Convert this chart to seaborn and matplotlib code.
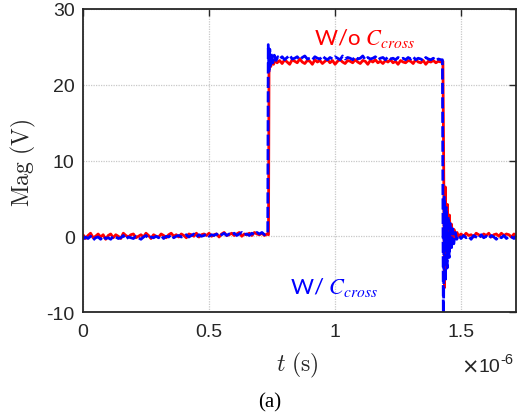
import numpy as np
import pandas as pd
import matplotlib
matplotlib.use("Agg")
import matplotlib.pyplot as plt
import seaborn as sns
from matplotlib.ticker import FuncFormatter

# ---------------- data (time in microseconds, magnitude in volts) ----------------
# sampling grids of the flat segments (10 ns steps)
base_t = list(np.round(np.arange(74) * 0.01, 3))          # 0.00 .. 0.73
plat_t = list(np.round(0.78 + np.arange(65) * 0.01, 3))   # 0.78 .. 1.42
tail_t = list(np.round(1.50 + np.arange(23) * 0.01, 3))   # 1.50 .. 1.72

# W/o C_cross (red)
red_base = [0.2, -0.3, 0.1, 0.4, -0.2, 0.0, 0.3, -0.1, 0.2, -0.4,
            0.1, 0.3, -0.2, 0.2, 0.0, -0.3, 0.4, 0.1, -0.1, 0.2,
            0.3, -0.2, 0.0, 0.2, -0.1, 0.4, 0.1, -0.3, 0.2, 0.0,
            -0.1, 0.3, 0.1, -0.2, 0.2, 0.4, 0.0, 0.2, -0.1, 0.3,
            0.1, -0.2, 0.3, 0.2, 0.0, 0.4, -0.1, 0.2, 0.3, 0.1,
            0.4, 0.0, 0.2, 0.3, -0.1, 0.3, 0.5, 0.1, 0.2, 0.4,
            0.1, 0.3, 0.5, 0.0, 0.3, 0.2, 0.4, 0.1, 0.5, 0.3,
            0.2, 0.4, 0.1, 0.3]
red_rise_t = [0.736, 0.738, 0.741, 0.745, 0.750, 0.756, 0.763, 0.770]
red_rise = [0.2, 21.5, 23.6, 22.4, 23.4, 22.7, 23.3, 22.9]
red_plat = [23.2, 22.8, 23.3, 23.0, 22.7, 23.3, 23.1, 22.9, 23.4, 23.0,
            22.8, 23.2, 23.1, 22.7, 23.3, 23.0, 23.2, 22.8, 23.1, 23.3,
            22.9, 23.2, 22.7, 23.1, 23.3, 23.0, 22.8, 23.2, 23.1, 22.9,
            23.3, 23.0, 22.8, 23.2, 23.1, 22.7, 23.2, 23.0, 23.3, 22.9,
            23.1, 22.8, 23.2, 23.0, 23.3, 22.9, 23.1, 22.7, 23.2, 23.0,
            22.9, 23.2, 23.1, 22.8, 23.3, 23.0, 22.9, 23.2, 22.7, 23.1,
            23.0, 23.2, 22.9, 23.1, 23.0]
red_fall_t = [1.428, 1.431, 1.434, 1.438, 1.442, 1.446, 1.450, 1.454,
              1.458, 1.462, 1.467, 1.472, 1.478, 1.484, 1.490]
red_fall = [23.1, 10.0, -6.8, 6.5, -4.0, 4.2, -2.4, 2.8,
            -1.2, 1.6, -0.6, 0.9, -0.1, 0.5, 0.0]
red_tail = [0.3, 0.0, 0.4, 0.1, 0.2, -0.1, 0.4, 0.2, 0.0, 0.3, 0.1, 0.4,
            -0.1, 0.2, 0.3, 0.0, 0.4, 0.1, 0.3, 0.2, -0.1, 0.3, 0.1]

# W/ C_cross (blue)
blue_base = [-0.4, -0.1, -0.3, 0.0, -0.5, -0.2, -0.1, -0.4, 0.0, -0.3,
             -0.2, -0.4, 0.0, -0.1, -0.3, -0.2, 0.1, -0.4, -0.1, -0.2,
             -0.3, 0.0, -0.2, -0.4, -0.1, 0.1, -0.3, -0.1, -0.2, 0.0,
             -0.2, 0.1, -0.3, 0.0, -0.1, 0.2, -0.2, 0.0, 0.1, -0.1,
             0.0, 0.2, -0.1, 0.1, 0.3, -0.1, 0.2, 0.0, 0.1, 0.3,
             0.0, 0.2, 0.1, 0.3, 0.0, 0.2, 0.4, 0.1, 0.3, 0.2,
             0.4, 0.1, 0.3, 0.5, 0.2, 0.3, 0.1, 0.4, 0.2, 0.5,
             0.3, 0.5, 0.2, 0.4]
blue_rise_t = [0.733, 0.735, 0.738, 0.741, 0.744, 0.748, 0.753, 0.759, 0.766, 0.773]
blue_rise = [0.4, 25.3, 21.6, 24.7, 22.3, 24.2, 22.9, 23.9, 23.2, 23.7]
blue_plat = [23.4, 23.7, 23.3, 23.6, 23.9, 23.4, 23.5, 23.7, 23.3, 23.6,
             23.8, 23.4, 23.5, 23.3, 23.7, 23.5, 23.4, 23.8, 23.5, 23.3,
             23.6, 23.4, 23.7, 23.5, 23.3, 23.8, 23.4, 23.6, 23.5, 23.3,
             23.7, 23.4, 23.5, 23.8, 23.3, 23.6, 23.4, 23.5, 23.7, 23.3,
             23.5, 23.6, 23.3, 23.7, 23.4, 23.5, 23.3, 23.6, 23.4, 23.5,
             23.3, 23.6, 23.4, 23.7, 23.3, 23.5, 23.4, 23.2, 23.6, 23.4,
             23.3, 23.5, 23.2, 23.4, 23.3]
blue_fall_t = [1.426, 1.430, 1.433, 1.437, 1.441, 1.445, 1.449, 1.453,
               1.457, 1.461, 1.466, 1.471, 1.477, 1.483, 1.490]
blue_fall = [23.3, -14.0, 5.2, -6.0, 3.8, -4.2, 2.6, -2.8,
             1.7, -1.8, 1.0, -1.0, 0.5, -0.4, 0.1]
blue_tail = [-0.3, 0.1, -0.2, 0.0, -0.4, 0.1, -0.1, -0.3, 0.2, -0.2, 0.0, -0.3,
             0.1, -0.1, -0.4, 0.0, -0.2, 0.1, -0.3, 0.0, -0.1, -0.3, 0.1]

x_ticks = [0, 0.5, 1, 1.5]
y_ticks = [-10, 0, 10, 20, 30]
label_wo = "W/o $C_{cross}$"
label_w = "W/ $C_{cross}$"

red_t = base_t + red_rise_t + plat_t + red_fall_t + tail_t
red_v = red_base + red_rise + red_plat + red_fall + red_tail
blue_t = base_t + blue_rise_t + plat_t + blue_fall_t + tail_t
blue_v = blue_base + blue_rise + blue_plat + blue_fall + blue_tail

df_red = pd.DataFrame({"t": np.array(red_t) * 1e-6, "v": red_v})
df_blue = pd.DataFrame({"t": np.array(blue_t) * 1e-6, "v": blue_v})

# ---------------- plot ----------------
sns.set_theme(style="white")
plt.rcParams["font.family"] = ["Liberation Sans", "DejaVu Sans"]
plt.rcParams["axes.unicode_minus"] = False

fig = plt.figure(figsize=(5.26, 4.14), dpi=100)
ax = fig.add_axes([83 / 526, 1 - 313 / 414, 433 / 526, 303 / 414])

sns.lineplot(data=df_red, x="t", y="v", ax=ax, estimator=None, sort=False,
             color="#ff0000", lw=2.0)
sns.lineplot(data=df_blue, x="t", y="v", ax=ax, estimator=None, sort=False,
             color="#0000ff", lw=2.0, linestyle=(0, (4, 1.2)))

ax.set_xlim(0, 1.718e-6)
ax.set_ylim(-10, 30)
ax.set_xticks([v * 1e-6 for v in x_ticks])
ax.xaxis.set_major_formatter(FuncFormatter(lambda v, p: f"{v * 1e6:g}"))
ax.set_yticks(y_ticks)

ax.grid(True, color="#c8c8c8", linestyle=(0, (1, 1)), lw=0.9)
for s in ax.spines.values():
    s.set_color("#262626")
    s.set_linewidth(1.3)
    s.set_visible(True)

ax.tick_params(axis="both", direction="in", top=True, right=True, length=5,
               width=1.0, color="#262626", labelsize=14, labelcolor="#262626")
ax.tick_params(axis="x", pad=8)
ax.tick_params(axis="y", pad=6)

ax.set_xlabel(r"$t\ \mathrm{(s)}$", fontsize=17, math_fontfamily="cm", color="#262626")
ax.set_ylabel(r"$\mathrm{Mag\ (V)}$", fontsize=17, math_fontfamily="cm", color="#262626")
ax.xaxis.set_label_coords(0.494, -0.125)
ax.xaxis.label.set_va("top")
ax.yaxis.set_label_coords(-0.103, 0.495)

fig.text(479 / 526, 1 - 368 / 414, "\u00d7", ha="right", va="center",
         fontsize=15, family="DejaVu Sans", color="#262626")
fig.text(500 / 526, 1 - 368 / 414, "10", ha="right", va="center",
         fontsize=14, color="#262626")
fig.text(500 / 526, 1 - 360 / 414, "-6", ha="left", va="center",
         fontsize=10.5, color="#262626")
fig.text(270 / 526, 1 - 403 / 414, "(a)", ha="center", va="center",
         fontsize=15, family="Liberation Serif", color="black")

ax.text(1.115e-6, 26.3, label_wo, color="#ff0000", fontsize=16, ha="center",
        va="center", family=["Lato", "DejaVu Sans"], math_fontfamily="stix")
ax.text(0.996e-6, -6.6, label_w, color="#0000ff", fontsize=16, ha="center",
        va="center", family=["Lato", "DejaVu Sans"], math_fontfamily="stix")

fig.savefig("out.png", dpi=100)
